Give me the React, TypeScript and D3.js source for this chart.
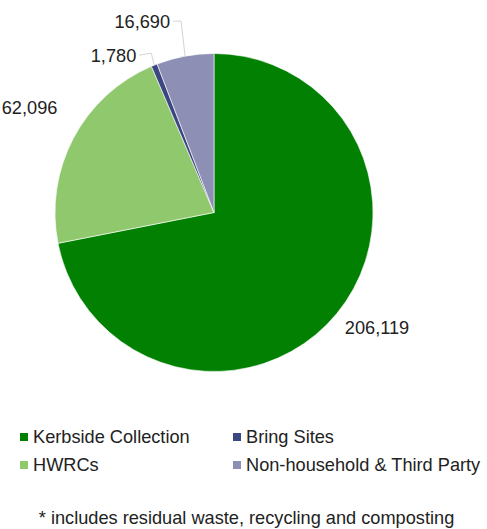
import React from "react";
import * as d3 from "d3";

const categories = ["Kerbside Collection", "HWRCs", "Bring Sites", "Non-household & Third Party"];
const values = [206119, 62096, 1780, 16690];
const colors = ["#018001", "#8fc86d", "#3c4782", "#8d8fb4"];
const footnote = "* includes residual waste, recycling and composting";

// label placement relative to the slice's outer mid-point: [elbowDx, elbowDy, labelDx, labelDy, anchor, leader]
const labelPlacement: [number, number, number, number, string, boolean][] = [
  [0, 0, 8, 14, "start", false],
  [0, 0, -16, -31, "end", false],
  [-3, -12, -18, -10, "end", true],
  [-4, -35, -15, -35, "end", true],
];

export default function App() {
  const W = 487, H = 529;
  const cx = 214, cy = 212.5, r = 159;
  const pie = d3.pie<number>().sort(null).value((d) => d).startAngle(0).endAngle(2 * Math.PI);
  const arcs = pie(values);
  const arc = d3.arc<d3.PieArcDatum<number>>().innerRadius(0).outerRadius(r);
  const fmt = d3.format(",");
  const font = "'Liberation Sans', Arial, sans-serif";
  const fs = 18.2;

  const legendPos = [
    [20, 437], [20, 465], [233, 437], [233, 465],
  ];

  return (
    <svg width={W} height={H} style={{ position: "absolute", left: 0, top: 0, display: "block" }} fontFamily={font}>
      <rect width={W} height={H} fill="#fff" />
      <g transform={`translate(${cx},${cy})`}>
        {arcs.map((a, i) => (
          <path key={i} d={arc(a) || ""} fill={colors[i]} stroke="#fff" strokeWidth={0.6} />
        ))}
        {arcs.map((a, i) => {
          const mid = (a.startAngle + a.endAngle) / 2;
          const px = r * Math.sin(mid);
          const py = -r * Math.cos(mid);
          const [ex, ey, lx, ly, anchor, leader] = labelPlacement[i];
          return (
            <g key={i}>
              {leader && (
                <polyline
                  points={`${px},${py} ${px + ex},${py + ey} ${px + lx + 3},${py + ly}`}
                  fill="none"
                  stroke="#c8c8c8"
                  strokeWidth={0.8}
                />
              )}
              <text
                x={px + lx}
                y={py + ly}
                dy="0.35em"
                textAnchor={anchor}
                fontSize={fs}
                fill="#222"
              >
                {fmt(values[i])}
              </text>
            </g>
          );
        })}
      </g>
      {categories.map((c, i) => (
        <g key={c}>
          <rect x={legendPos[i][0]} y={legendPos[i][1] - 4} width={8} height={8} fill={colors[i]} />
          <text x={legendPos[i][0] + 13} y={legendPos[i][1]} dy="0.35em" fontSize={fs} fill="#222">
            {c}
          </text>
        </g>
      ))}
      <text x={246.5} y={518} dy="0.35em" textAnchor="middle" fontSize={fs} fill="#222">
        {footnote}
      </text>
    </svg>
  );
}
